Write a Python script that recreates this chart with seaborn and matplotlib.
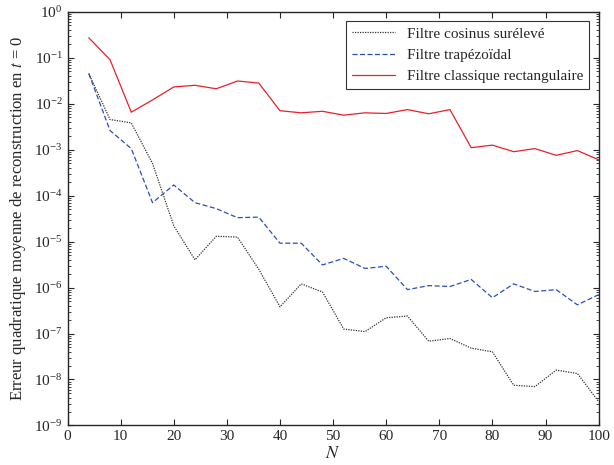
import numpy as np
import matplotlib
matplotlib.use("Agg")
import matplotlib.pyplot as plt
import matplotlib.ticker as mticker
import pandas as pd
import seaborn as sns

N = list(range(4, 101, 4))
cosinus = [0.045, 4.5e-3, 3.8e-3, 5e-4, 2.2e-5, 4e-6, 1.3e-5, 1.25e-5, 2.5e-6, 3.8e-7,
           1.2e-6, 8e-7, 1.25e-7, 1.1e-7, 2.2e-7, 2.4e-7, 6.8e-8, 7.8e-8, 4.8e-8, 4e-8,
           7.5e-9, 7e-9, 1.6e-8, 1.35e-8, 3.3e-9]
trapeze = [0.045, 2.6e-3, 1.05e-3, 7e-5, 1.7e-4, 7e-5, 5.2e-5, 3.3e-5, 3.4e-5, 9.2e-6,
           9.2e-6, 3.1e-6, 4.3e-6, 2.6e-6, 2.9e-6, 9e-7, 1.1e-6, 1.05e-6, 1.5e-6, 6e-7,
           1.2e-6, 8.2e-7, 9e-7, 4.2e-7, 7e-7]
rectangle = [0.27, 0.09, 6.5e-3, 1.2e-2, 2.3e-2, 2.5e-2, 2.1e-2, 3.1e-2, 2.8e-2, 7e-3,
             6.3e-3, 6.8e-3, 5.6e-3, 6.3e-3, 6.1e-3, 7.4e-3, 6e-3, 7.4e-3, 1.1e-3, 1.25e-3,
             9e-4, 1.05e-3, 7.5e-4, 9.5e-4, 6e-4]
labels = ["Filtre cosinus surélevé", "Filtre trapézoïdal", "Filtre classique rectangulaire"]

df = pd.DataFrame({"N": N * 3,
                   "err": cosinus + trapeze + rectangle,
                   "filtre": [labels[0]] * 25 + [labels[1]] * 25 + [labels[2]] * 25})

sns.set_style("ticks")
plt.rcParams['font.family'] = ['Liberation Serif', 'DejaVu Serif']
plt.rcParams['mathtext.fontset'] = 'stix'

fig, ax = plt.subplots(figsize=(6.14, 4.65), dpi=100)
sns.lineplot(data=df, x="N", y="err", hue="filtre", style="filtre",
             palette=["#333333", "#2b4fb5", "#e8202a"],
             dashes=[(1, 1), (4, 2), ""], linewidth=0.9, ax=ax)
ax.set_yscale('log')
ax.set_xlim(0, 100)
ax.set_ylim(1e-9, 1)
ax.set_yticks([10.0 ** k for k in range(-9, 1)])
ax.yaxis.set_minor_locator(mticker.LogLocator(base=10, subs=np.arange(2, 10), numticks=20))
ax.yaxis.set_minor_formatter(mticker.NullFormatter())
ax.set_xticks(range(0, 101, 10))
ax.tick_params(which='both', direction='in', top=True, right=True, labelsize=11)
ax.tick_params(which='major', length=4)
ax.tick_params(which='minor', length=2)
for s in ax.spines.values():
    s.set_linewidth(1.0)
ax.set_xlabel(r"$N$", fontsize=13, labelpad=1)
ax.set_ylabel(r"Erreur quadratique moyenne de reconstruction en $t$ = 0", fontsize=12)
leg = ax.legend(title=None, loc='upper right', fontsize=11, frameon=True, fancybox=False,
                edgecolor='black', borderaxespad=0.6, handlelength=2.8)
leg.get_frame().set_linewidth(0.8)
plt.subplots_adjust(left=0.11, right=0.975, top=0.975, bottom=0.085)
fig.savefig("out.png", dpi=100)
